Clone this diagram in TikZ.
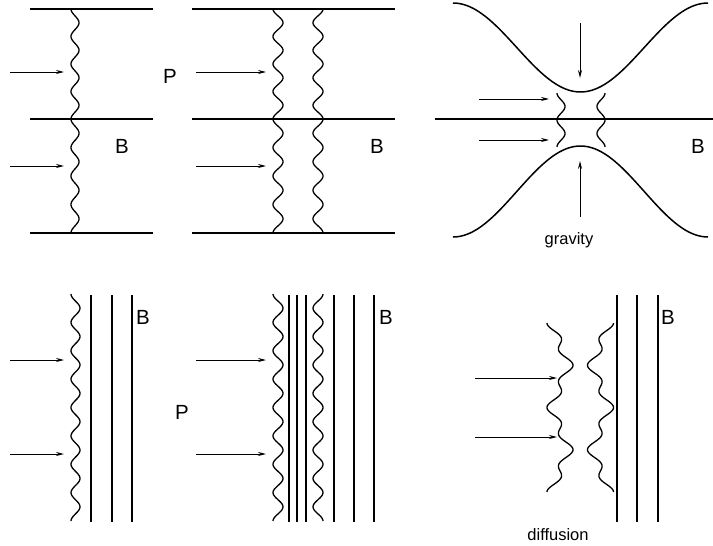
\documentclass[tikz,border=0pt]{standalone}
\usepackage{fontspec}
\setmainfont{Liberation Sans}
\usetikzlibrary{arrows.meta}

\tikzset{
  plate/.style={line width=1.5pt},
  fieldline/.style={line width=1.3pt},
  wave/.style={line width=1.3pt},
  push/.style={line width=1pt, -{Stealth[length=8pt,width=4pt]}},
  biglabel/.style={font=\fontsize{20.5}{23}\selectfont, inner sep=0pt},
  smalllabel/.style={font=\fontsize{16.5}{19}\selectfont, inner sep=0pt},
}

% wavy front: centre x, amplitude, from y, to y, number of waves
\newcommand{\front}[5]{%
  \draw[wave] plot[domain=#3:#4, samples=160, smooth, variable=\t]
    ({#1-(#2)*cos(360*#5*((\t-#3)/(#4-#3)))}, \t);}
% diffusing front: centre x, side (+1 or -1), from y, to y
\newcommand{\blurfront}[4]{%
  \draw[wave] plot[domain=#3:#4, samples=240, smooth, variable=\t]
    ({#1-(#2)*(8*cos(720*((\t-#3)/(#4-#3)))+5*cos(2160*((\t-#3)/(#4-#3))))}, \t);}

\begin{document}
\begin{tikzpicture}[x=1pt,y=-1pt]
    \useasboundingbox (0,0) rectangle (713,546);

    % Labels
    \node[biglabel] (B1) at (122,146) {B};
    \node[biglabel] (B2) at (377,146) {B};
    \node[biglabel] (B3) at (698,146) {B};
    \node[biglabel] (B4) at (143,317) {B};
    \node[biglabel] (B5) at (386,317) {B};
    \node[biglabel] (B6) at (668,317) {B};
    \node[biglabel] (Ptop) at (170,76) {P};
    \node[biglabel] (Pbot) at (182,412) {P};
    \node[smalllabel, anchor=base] (grav) at (569,244) {gravity};
    \node[smalllabel, anchor=base] (diff) at (558,540) {diffusion};

    % Top row: horizontal field
    \foreach \y in {9,119,233} {
        \draw[plate] (30,\y) -- (153,\y);
        \draw[plate] (192,\y) -- (395,\y);
    }
    \draw[plate] (435,119) -- (713,119);

    \front{75}{4}{9}{119}{4}
    \front{75}{4}{119}{233}{4}
    \front{278}{5}{9}{119}{4}
    \front{278}{5}{119}{233}{4}
    \front{318}{-5}{9}{119}{4}
    \front{318}{-5}{119}{233}{4}

    % Top right: pinched field lines
    \draw[plate] plot[domain=453:708, samples=80, smooth] (\x, {3+44.5*(1-cos(360*((\x-453)/255)))});
    \draw[plate] plot[domain=453:708, samples=80, smooth] (\x, {237-45.5*(1-cos(360*((\x-453)/255)))});
    \front{561}{4}{93}{147}{2}
    \front{601}{-4}{93}{147}{2}

    % Bottom row: vertical field
    \foreach \x in {91,112,132,289,297,306,334,354,374,617,637,658}
        \draw[fieldline] (\x,295) -- (\x,522);
    \front{75.5}{4.5}{294}{521}{8}
    \front{278}{5}{294}{521}{8}
    \front{318}{-5}{294}{521}{8}
    \blurfront{560}{1}{323}{492}
    \blurfront{600.5}{-1}{323}{492}

    % Arrows
    \foreach \y [count=\i] in {72,166,360,454} {
        \coordinate (tailL\i) at (10,\y);  \coordinate (headL\i) at (64,\y);
        \coordinate (tailM\i) at (196,\y); \coordinate (headM\i) at (266,\y);
        \draw[push] (tailL\i) -- (headL\i);
        \draw[push] (tailM\i) -- (headM\i);
    }
    \foreach \y [count=\i] in {99,140} {
        \coordinate (tailG\i) at (479,\y); \coordinate (headG\i) at (549,\y);
        \draw[push] (tailG\i) -- (headG\i);
    }
    \foreach \y [count=\i] in {378,437} {
        \coordinate (tailD\i) at (475,\y); \coordinate (headD\i) at (557,\y);
        \draw[push] (tailD\i) -- (headD\i);
    }
    \coordinate (topIn) at (580,23);  \coordinate (topAt) at (580,78);
    \coordinate (botIn) at (580,217); \coordinate (botAt) at (580,161);
    \draw[push] (topIn) -- (topAt);
    \draw[push] (botIn) -- (botAt);
\end{tikzpicture}
\end{document}
